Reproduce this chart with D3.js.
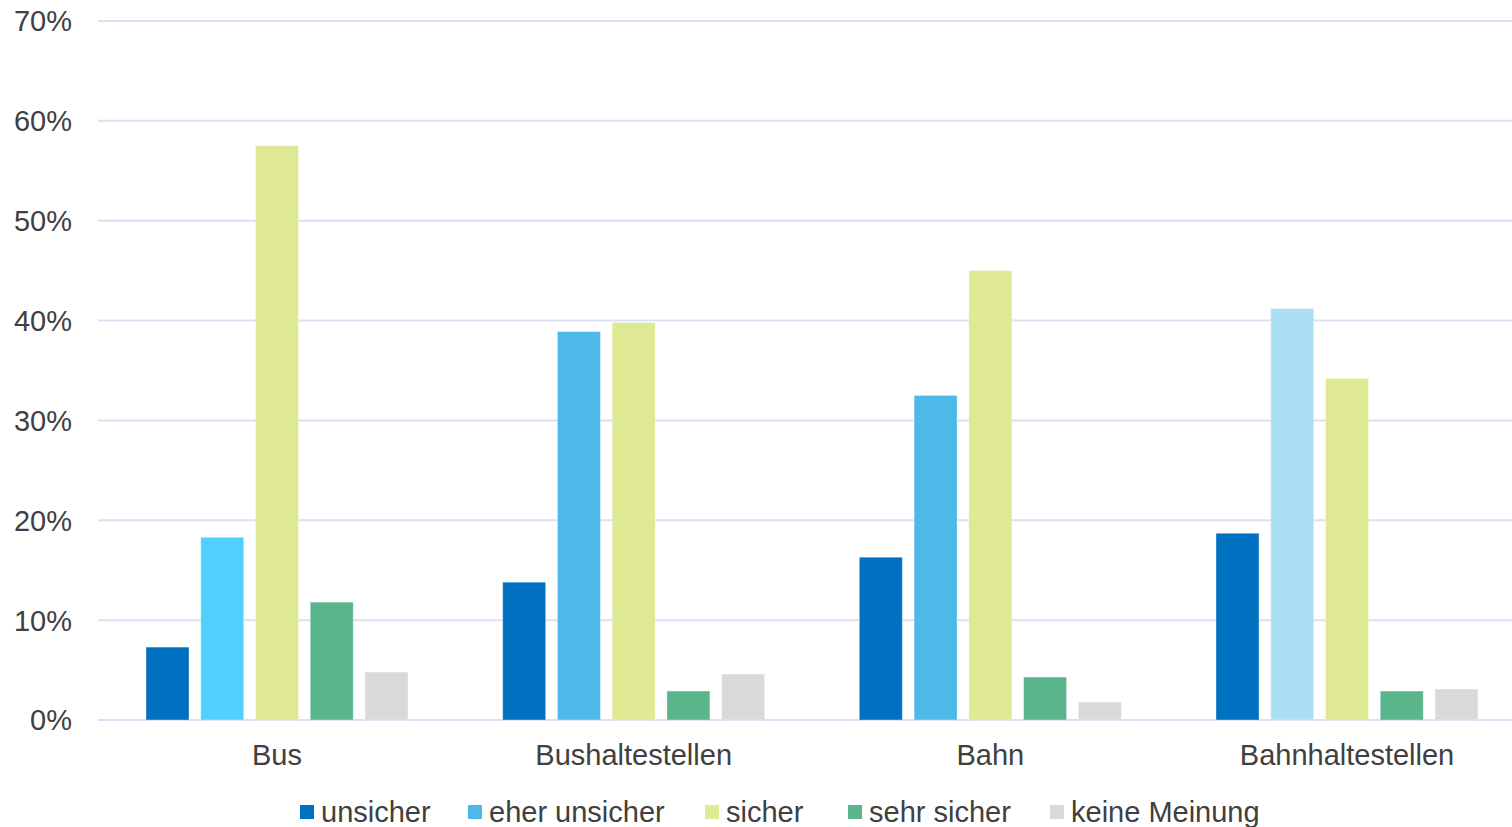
<!DOCTYPE html>
<html><head><meta charset="utf-8">
<script src="https://cdn.jsdelivr.net/npm/d3@7"></script>
<style>html,body{margin:0;padding:0;background:#fff;}svg{display:block;font-family:"Liberation Sans",Arial,sans-serif;}</style>
</head><body>
<svg id="c" width="1512" height="827"></svg>
<script>
const categories = ["Bus", "Bushaltestellen", "Bahn", "Bahnhaltestellen"];
const series = ["unsicher", "eher unsicher", "sicher", "sehr sicher", "keine Meinung"];
const unsicher = [7.3, 13.8, 16.3, 18.7];
const eherUnsicher = [18.3, 38.9, 32.5, 41.2];
const sicher = [57.5, 39.8, 45.0, 34.2];
const sehrSicher = [11.8, 2.9, 4.3, 2.9];
const keineMeinung = [4.8, 4.6, 1.8, 3.1];
const yTicks = [0, 10, 20, 30, 40, 50, 60, 70];
const seriesColors = ["#0070C0", "#4EB9E8", "#DFE892", "#5BB58C", "#D9D9D9"];
const eherColorsByCategory = ["#4FD0FF", "#4EB9E8", "#4EB9E8", "#A9DEF4"];

const values = [unsicher, eherUnsicher, sicher, sehrSicher, keineMeinung];
const svg = d3.select("#c");
const W = 1512, H = 827;
const m = {left: 98, top: 21, bottom: 107};
const FS = 29;
const y = d3.scaleLinear().domain([0, 70]).range([H - m.bottom, m.top]);
const x0 = d3.scaleBand().domain(categories).range([m.left, 1526]).paddingInner(0.2655).paddingOuter(0.1346);
const x1 = d3.scaleBand().domain(series).range([0, x0.bandwidth()]).paddingInner(0.215).paddingOuter(0);

// gridlines
svg.append("g").selectAll("line").data(yTicks).join("line")
  .attr("x1", m.left).attr("x2", W).attr("y1", d => y(d)).attr("y2", d => y(d))
  .attr("stroke", "#D9E1F2").attr("stroke-width", 2);

// y axis labels
const yAxis = d3.axisLeft(y).tickValues(yTicks).tickFormat(d => d + "%").tickSize(0).tickPadding(0);
const ya = svg.append("g").attr("transform", `translate(72,0)`).call(yAxis);
ya.select(".domain").remove();
ya.selectAll("text").attr("font-size", FS).attr("fill", "#404040").attr("font-family", '"Liberation Sans",Arial,sans-serif').attr("dy", "0.34em");

// bars
const data = [];
categories.forEach((c, ci) => series.forEach((s, si) => data.push({c, ci, s, si, v: values[si][ci]})));
svg.append("g").selectAll("rect").data(data).join("rect")
  .attr("x", d => x0(d.c) + x1(d.s))
  .attr("width", x1.bandwidth())
  .attr("y", d => y(d.v))
  .attr("height", d => y(0) - y(d.v))
  .attr("fill", d => d.si === 1 ? eherColorsByCategory[d.ci] : seriesColors[d.si])
  .attr("stroke", "rgba(255,255,255,0.35)").attr("stroke-width", 1);

// x axis labels
const xAxis = d3.axisBottom(x0).tickSize(0).tickPadding(0);
const xa = svg.append("g").attr("transform", `translate(0,${y(0) + 35})`).call(xAxis);
xa.select(".domain").remove();
xa.selectAll("text").attr("font-size", FS).attr("fill", "#404040").attr("font-family", '"Liberation Sans",Arial,sans-serif').attr("dy", "0.34em");

// legend
const legendX = [300, 468, 705, 848, 1050];
const lg = svg.append("g").selectAll("g").data(series).join("g")
  .attr("transform", (d, i) => `translate(${legendX[i]},812)`);
lg.append("rect").attr("x", 0).attr("y", -7).attr("width", 14).attr("height", 14).attr("fill", (d, i) => seriesColors[i]);
lg.append("text").attr("x", 21).attr("dy", "0.34em").attr("font-size", FS).attr("fill", "#404040").text(d => d);
</script>
</body></html>
